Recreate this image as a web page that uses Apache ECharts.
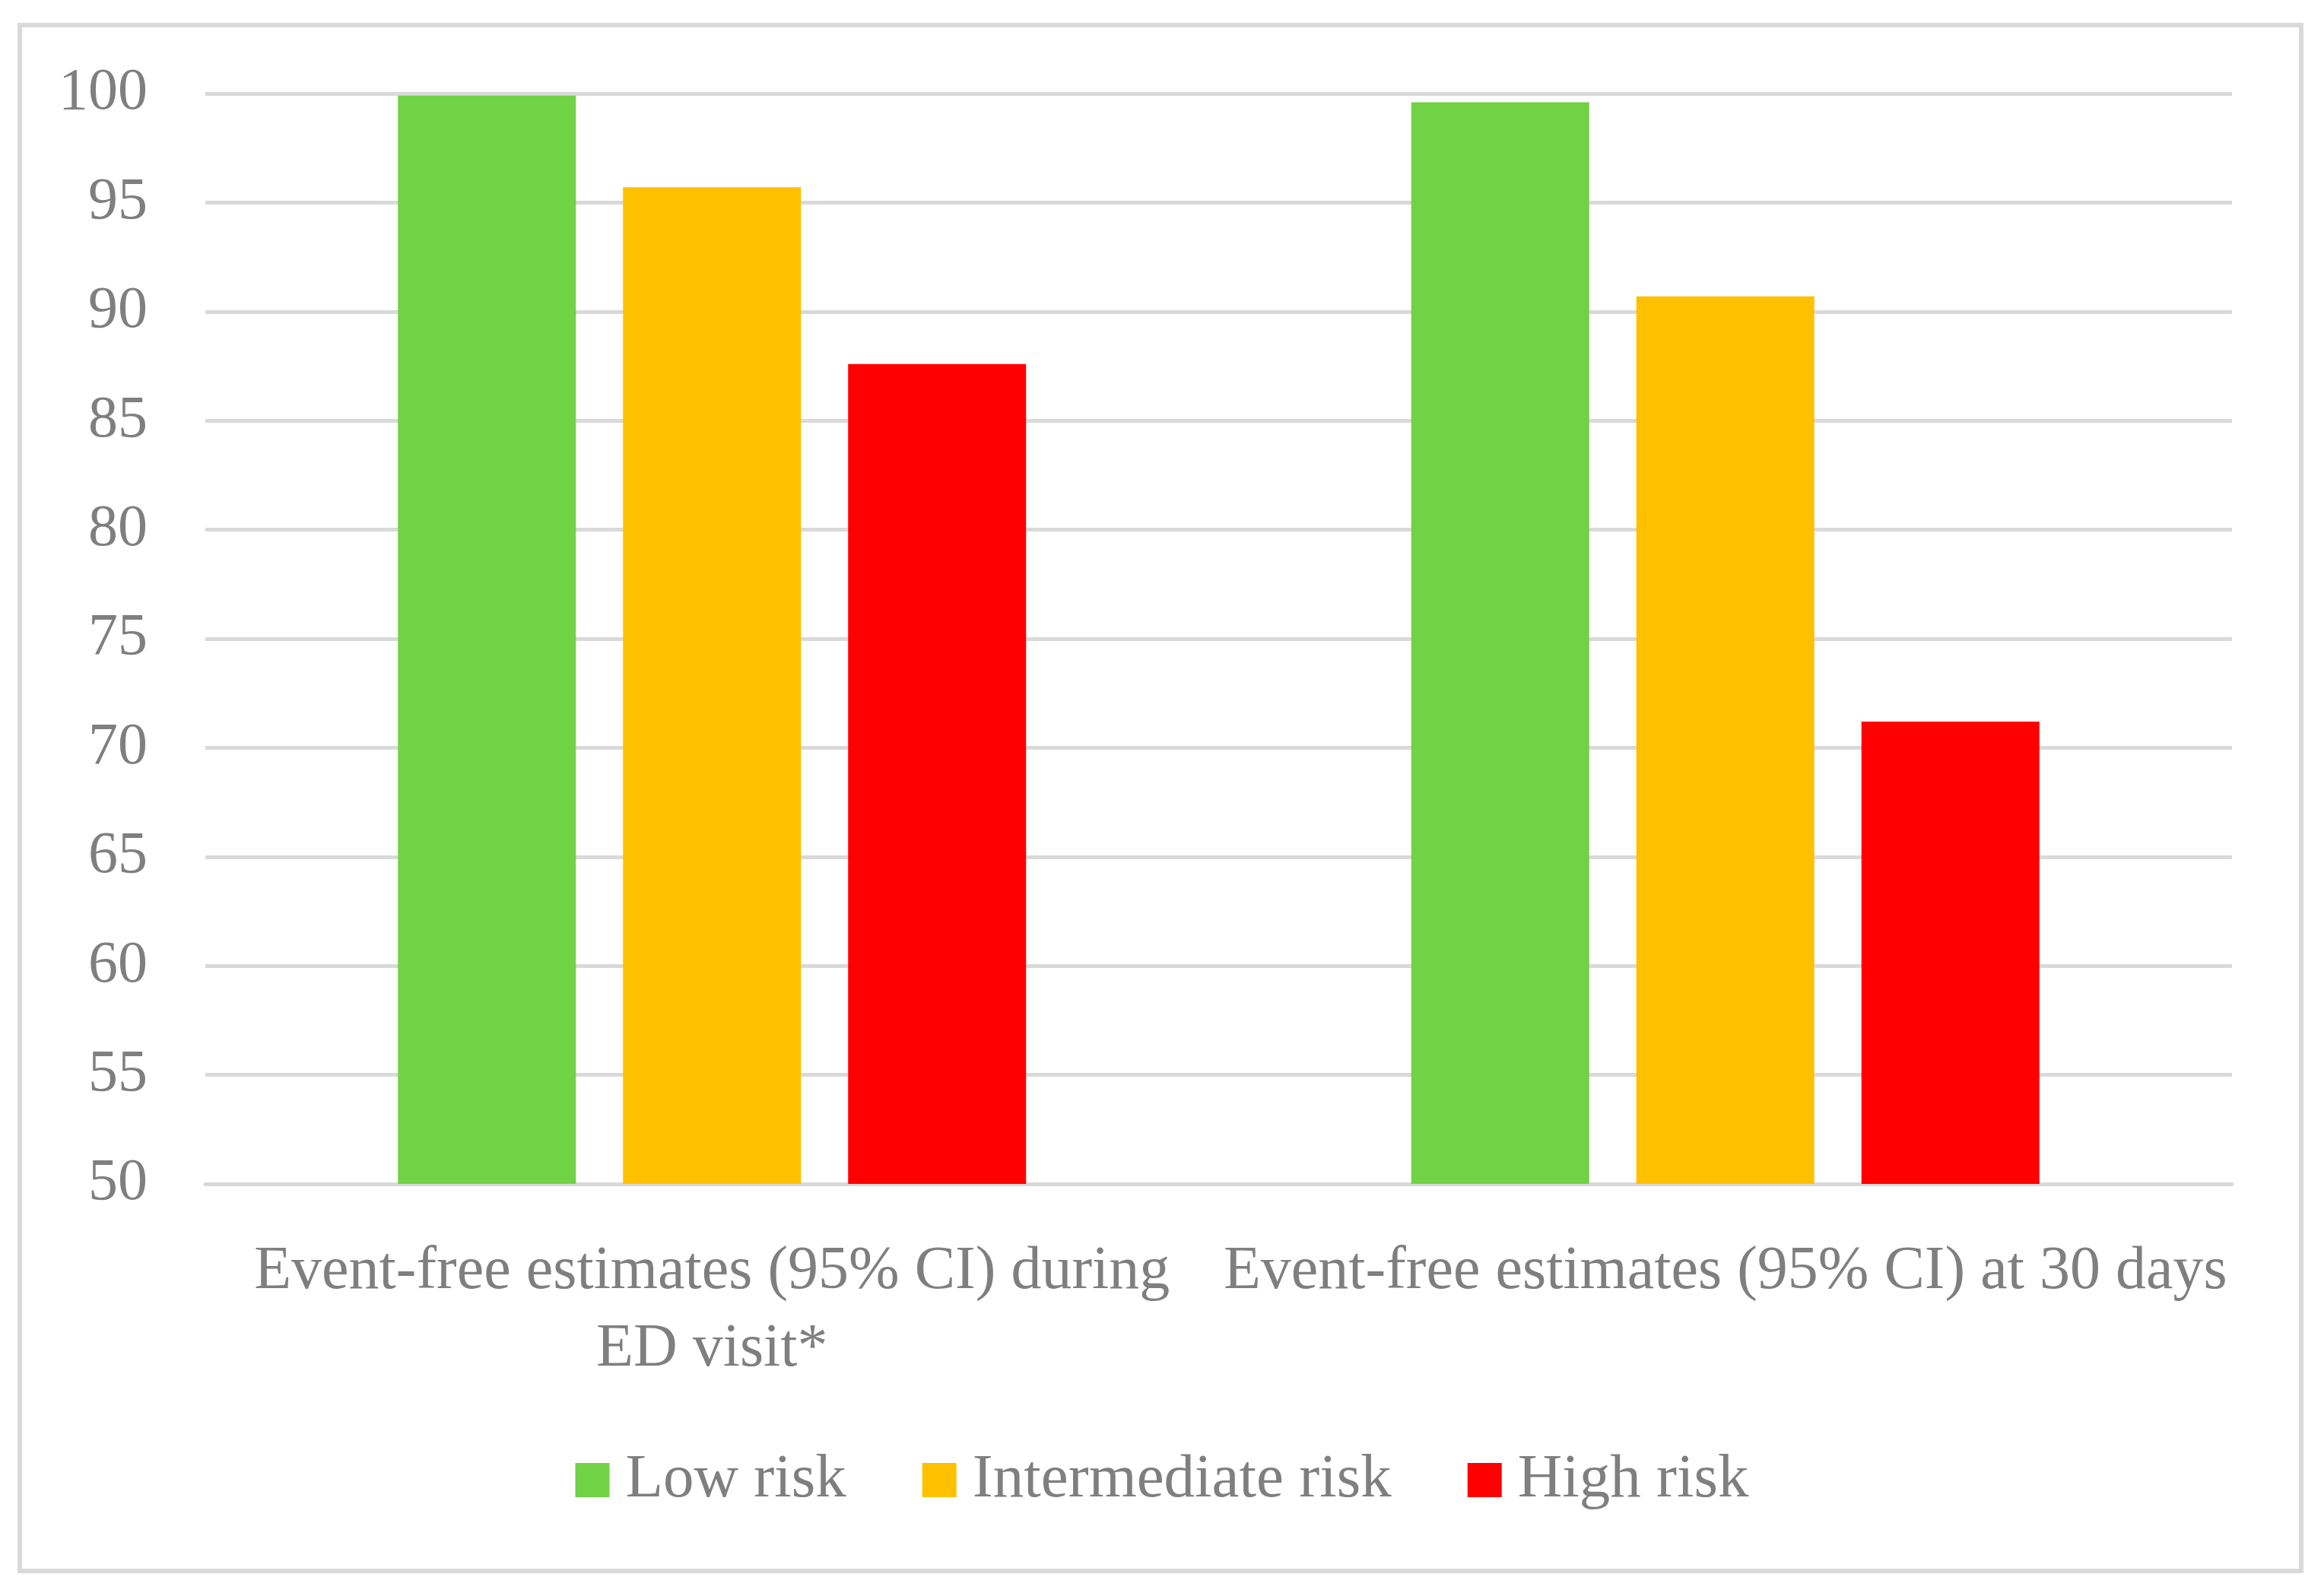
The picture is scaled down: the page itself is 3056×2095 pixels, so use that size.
<!DOCTYPE html>
<html>
<head>
<meta charset="utf-8">
<style>html,body{margin:0;padding:0;background:#fff;}#c{width:3056px;height:2095px;}</style>
<script src="https://cdn.jsdelivr.net/npm/echarts@6/dist/echarts.min.js"></script>
</head>
<body>
<div id="c"></div>
<script>
const categories = ['Event-free estimates (95% CI) during\nED visit*', 'Event-free estimates (95% CI) at 30 days'];
const seriesNames = ['Low risk', 'Intermediate risk', 'High risk'];
const lowRisk = [99.9, 99.6];
const intermediateRisk = [95.7, 90.7];
const highRisk = [87.6, 71.2];
const colors = ['#70D244', '#FFC000', '#FF0000'];
const yMin = 50, yMax = 100, yInterval = 5;

const FONT = '"Liberation Serif", serif';
const TXT = '#7F7F7F';
const chart = echarts.init(document.getElementById('c'));
const values = [lowRisk, intermediateRisk, highRisk];
chart.setOption({
  animation: false,
  backgroundColor: '#fff',
  graphic: [{
    type: 'rect', shape: {x: 26, y: 33, width: 3000, height: 2033},
    style: {fill: 'none', stroke: '#D9D9D9', lineWidth: 6}, silent: true
  }],
  grid: {left: 270, right: 121, top: 123, bottom: 538},
  legend: {
    data: seriesNames, top: 1901, left: 'center', itemWidth: 45, itemHeight: 45, itemGap: 100,
    icon: 'rect',
    textStyle: {fontFamily: FONT, fontSize: 81, color: TXT, padding: [0, 0, 0, 16]}
  },
  xAxis: {
    type: 'category', data: categories,
    axisLine: {show: true, lineStyle: {color: '#D9D9D9', width: 5}},
    axisTick: {show: false},
    axisLabel: {fontFamily: FONT, fontSize: 80, color: TXT, lineHeight: 102, margin: 65, interval: 0}
  },
  yAxis: {
    type: 'value', min: yMin, max: yMax, interval: yInterval,
    axisLine: {show: false}, axisTick: {show: false},
    splitLine: {show: true, lineStyle: {color: '#D9D9D9', width: 5}},
    axisLabel: {fontFamily: FONT, fontSize: 78, color: TXT, margin: 76}
  },
  series: seriesNames.map((n, i) => ({
    name: n, type: 'bar', data: values[i], barWidth: '17.56%', barGap: '26.5%',
    itemStyle: {color: colors[i]}
  }))
});
</script>
</body>
</html>
